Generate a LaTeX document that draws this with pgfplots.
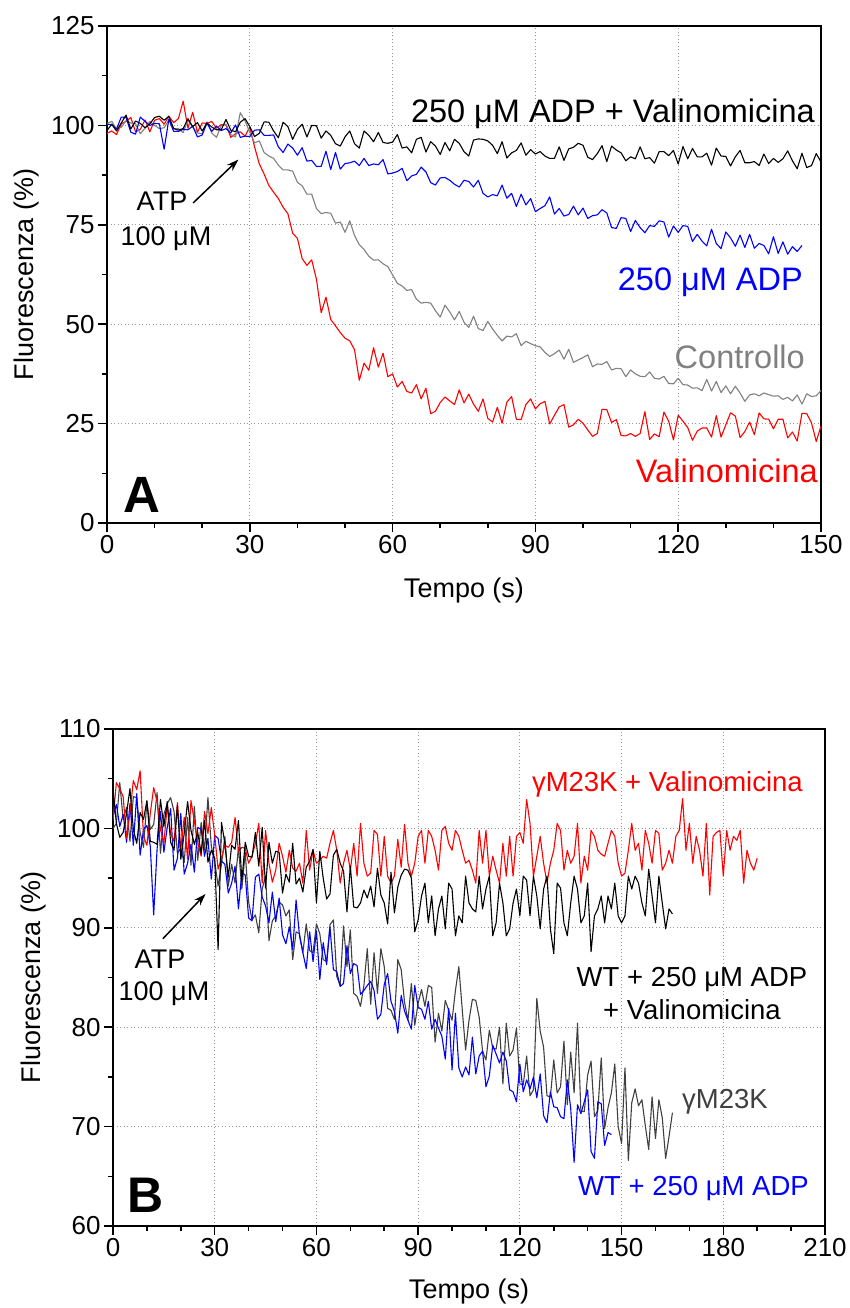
\documentclass[border=0pt]{standalone}
\usepackage{fontspec}
\setmainfont{Liberation Sans}
\usepackage{pgfplots}
\usepackage{pgfplotstable}
\pgfplotsset{compat=1.18}
\usetikzlibrary{arrows.meta}
\definecolor{cblue}{RGB}{0,0,255}
\definecolor{cred}{RGB}{255,0,0}
\definecolor{cgray}{RGB}{128,128,128}
\definecolor{cdgray}{RGB}{64,64,64}
\definecolor{gridc}{RGB}{150,150,150}

\pgfplotstableread{
t bk bl gr rd
0 98.7 100.3 100.5 98.0
1 100.3 100.2 101.0 98.6
2 98.6 99.1 99.1 97.7
3 100.6 102.1 99.5 100.4
4 102.6 102.0 101.2 101.0
5 99.1 98.3 100.6 102.0
6 101.1 97.8 100.4 98.4
7 100.5 102.1 97.9 99.0
8 99.4 101.0 99.3 101.4
9 100.4 100.0 101.0 98.4
10 102.0 100.5 100.0 101.3
11 102.3 100.4 99.2 101.7
12 101.3 94.0 99.4 100.3
13 102.3 101.6 101.4 102.3
14 99.2 98.5 99.2 100.7
15 98.8 98.5 99.2 101.7
16 99.2 99.0 98.2 106.1
17 101.7 98.9 101.3 99.3
18 99.7 99.8 99.6 103.3
19 100.7 97.1 98.1 98.3
20 98.6 97.6 97.9 100.6
21 100.6 100.6 100.9 100.5
22 99.6 98.5 98.1 101.0
23 98.9 99.8 97.0 99.3
24 98.9 98.7 100.0 100.2
25 101.5 99.2 100.3 100.1
26 98.8 98.1 97.7 97.0
27 98.4 100.1 97.1 97.9
28 100.8 97.0 103.2 98.4
29 101.7 97.3 101.1 97.3
30 99.7 97.2 98.3 99.6
31 97.2 98.8 95.6 94.6
32 98.0 98.9 96.1 90.3
33 100.9 97.5 93.2 87.8
34 100.8 97.5 92.3 84.9
35 98.6 97.6 91.7 83.2
36 96.9 94.6 90.0 81.6
37 100.8 93.2 88.8 79.4
38 99.7 95.3 88.8 77.8
39 96.5 94.3 88.5 72.9
40 99.0 92.5 85.7 71.6
41 100.3 94.4 84.8 66.5
42 97.1 91.0 82.7 64.8
43 100.0 91.2 82.7 66.2
44 99.9 89.7 79.1 61.3
45 96.8 89.7 77.8 52.9
46 98.6 93.5 78.1 56.8
47 97.5 88.9 77.9 51.2
48 95.4 93.2 75.4 49.6
49 94.8 89.0 75.7 47.9
50 97.1 90.4 73.1 46.5
51 98.6 90.6 76.0 45.8
52 95.4 91.0 72.3 43.6
53 94.3 89.9 70.0 35.9
54 98.6 91.7 68.8 40.2
55 97.5 89.9 67.1 38.4
56 95.9 90.3 66.1 44.1
57 98.2 90.1 66.2 39.2
58 95.7 91.4 65.2 42.7
59 95.5 87.8 64.5 36.8
60 95.8 88.0 62.4 37.5
61 97.7 88.4 60.3 34.2
62 94.3 89.2 59.6 35.6
63 94.6 86.1 58.5 33.1
64 93.1 87.3 58.7 32.7
65 96.5 87.7 56.3 34.8
66 97.0 89.5 55.3 31.2
67 93.3 88.3 55.5 33.9
68 95.9 85.6 55.3 27.5
69 94.8 85.0 53.4 28.1
70 92.7 86.8 51.8 30.3
71 95.7 86.9 54.8 31.7
72 93.6 86.2 53.1 30.7
73 96.5 85.2 51.1 29.8
74 95.5 84.5 53.2 33.5
75 93.4 86.2 50.5 30.2
76 92.3 85.9 49.2 32.4
77 96.3 84.5 52.0 29.9
78 96.6 86.2 48.9 28.1
79 96.5 82.9 48.4 31.2
80 96.1 82.0 50.7 26.3
81 95.0 82.6 48.8 25.4
82 92.9 82.3 47.2 29.1
83 95.9 85.0 45.8 25.1
84 91.8 81.7 47.0 30.4
85 93.1 82.9 46.8 31.8
86 93.7 79.6 47.6 26.1
87 95.6 82.7 44.6 26.0
88 92.5 80.0 45.7 29.8
89 93.9 81.6 45.1 31.2
90 92.8 78.3 44.6 28.7
91 93.4 79.1 44.3 30.0
92 92.3 79.8 42.9 30.6
93 91.7 82.0 41.9 24.9
94 91.7 77.7 42.6 27.1
95 94.6 79.1 43.5 29.2
96 91.2 77.2 41.2 29.8
97 94.1 77.6 43.7 24.1
98 94.5 79.7 40.4 24.7
99 95.5 77.5 41.0 26.1
100 95.0 79.2 41.6 25.1
101 92.0 76.6 42.3 23.4
102 91.4 77.3 39.3 21.8
103 92.9 77.5 40.0 22.5
104 94.9 78.8 39.9 28.6
105 90.9 78.0 40.6 28.5
106 94.8 74.3 38.5 25.3
107 93.8 74.1 38.9 26.0
108 93.1 76.8 38.8 22.0
109 91.1 76.6 36.8 21.9
110 92.1 73.3 38.5 22.5
111 91.6 76.1 37.5 21.8
112 94.6 74.3 36.9 22.5
113 91.6 73.0 36.8 28.0
114 91.9 74.8 38.0 21.0
115 90.5 74.6 36.4 22.4
116 93.4 76.0 36.2 21.7
117 93.4 75.7 36.9 27.9
118 92.4 71.9 35.1 25.6
119 93.7 74.7 35.0 20.9
120 90.3 73.1 36.4 27.1
121 94.7 74.8 34.8 25.6
122 91.6 74.6 34.7 24.0
123 94.2 70.8 33.9 20.8
124 92.1 72.6 34.0 23.1
125 92.1 70.9 33.3 23.9
126 93.0 69.7 36.1 23.9
127 90.0 73.9 33.2 21.6
128 94.3 70.3 35.6 27.0
129 92.3 69.0 32.8 21.6
130 92.2 73.2 34.5 24.7
131 89.8 71.7 32.5 27.7
132 92.1 69.6 34.4 26.9
133 93.7 72.4 32.7 21.5
134 90.6 69.3 30.6 23.0
135 90.6 72.6 32.2 25.4
136 90.9 69.1 32.5 22.2
137 89.9 70.3 32.0 27.7
138 92.8 69.8 32.7 26.2
139 90.4 67.7 32.3 26.1
140 91.7 72.0 31.9 23.7
141 90.7 67.8 32.0 26.1
142 91.6 70.7 31.1 26.1
143 93.6 67.6 31.6 21.4
144 91.1 69.5 30.7 22.9
145 89.1 68.3 32.2 20.6
146 93.0 69.8 29.9 27.6
147 89.4 nan 32.5 27.5
148 89.9 nan 31.8 25.2
149 92.9 nan 32.0 20.5
150 90.8 nan 33.3 24.4
}\dataA

\pgfplotstableread{
t rd bk bl gy
0 100.8 104.0 101.2 100.0
1 104.6 100.5 102.4 100.5
2 104.0 99.1 100.2 104.6
3 103.2 99.6 101.4 100.9
4 99.0 101.5 98.6 102.1
5 101.6 104.0 102.5 98.7
6 104.8 99.9 98.3 103.2
7 103.9 98.5 103.5 103.1
8 105.8 101.6 97.3 99.6
9 99.2 100.9 99.9 98.1
10 98.3 102.8 100.3 102.7
11 101.5 98.7 98.2 99.9
12 104.1 98.6 91.3 100.4
13 102.7 98.4 97.9 103.6
14 99.9 102.9 101.7 97.5
15 98.5 100.2 97.6 101.4
16 102.3 102.7 100.1 102.5
17 99.5 98.6 102.0 103.1
18 98.7 97.8 95.8 101.7
19 102.6 102.3 97.0 97.5
20 97.9 96.9 101.5 98.0
21 101.1 99.5 95.4 96.6
22 96.9 102.7 96.5 101.1
23 102.8 99.8 98.4 96.3
24 100.7 98.4 95.6 102.2
25 98.6 99.6 100.1 96.8
26 97.2 97.5 99.9 100.6
27 101.7 100.8 97.2 97.8
28 99.5 96.6 99.0 103.1
29 102.1 97.8 94.9 98.2
30 99.3 97.0 99.3 96.7
31 95.9 87.8 99.0 94.2
32 97.0 100.6 96.7 96.4
33 98.3 98.5 96.4 99.2
34 98.1 95.1 93.5 94.2
35 98.6 98.3 94.5 96.4
36 101.1 97.9 96.2 94.5
37 97.7 100.8 91.9 98.1
38 98.1 94.7 95.6 93.9
39 98.0 98.6 95.3 97.6
40 96.5 97.2 91.0 92.6
41 97.2 97.1 90.7 90.8
42 98.5 99.6 95.1 91.3
43 100.5 96.2 95.4 89.5
44 94.5 100.1 93.1 93.9
45 99.8 94.0 92.2 95.2
46 96.5 98.6 90.5 88.7
47 94.6 96.5 93.6 90.7
48 95.8 97.7 90.6 91.2
49 98.5 97.6 93.0 92.6
50 97.2 93.5 89.3 92.3
51 95.6 95.4 88.4 91.2
52 97.8 94.6 90.1 91.8
53 96.0 98.5 87.8 86.8
54 95.7 94.4 92.8 89.6
55 96.5 95.0 89.2 89.4
56 94.5 93.6 87.5 87.5
57 99.8 96.1 85.9 90.4
58 95.8 96.7 89.6 87.7
59 97.8 97.9 86.6 87.5
60 96.5 92.5 89.7 90.4
61 96.8 97.7 84.8 89.4
62 97.2 95.0 88.5 86.8
63 97.0 92.9 86.3 86.6
64 98.5 93.4 90.1 90.3
65 99.8 97.3 85.8 90.8
66 97.8 97.9 85.6 85.1
67 94.5 96.5 84.1 84.2
68 96.5 95.7 84.4 90.2
69 97.8 91.6 88.2 86.1
70 95.8 96.2 85.4 89.8
71 98.5 92.1 86.4 83.4
72 95.2 92.0 86.2 83.1
73 100.5 92.5 83.3 82.1
74 96.5 93.8 83.7 84.2
75 95.2 93.0 84.2 87.9
76 95.5 94.2 84.6 82.3
77 99.8 92.1 83.7 87.5
78 99.4 96.0 80.8 83.4
79 95.2 93.3 81.3 87.9
80 99.2 92.5 84.3 86.1
81 95.2 90.4 85.4 81.9
82 94.5 95.6 82.6 81.7
83 95.2 91.5 81.6 80.8
84 98.9 94.1 79.4 86.8
85 96.1 95.3 83.2 85.8
86 100.4 95.9 81.6 82.5
87 96.5 95.8 80.7 80.7
88 95.2 95.0 79.8 84.4
89 96.5 89.6 84.2 80.2
90 99.2 90.8 82.0 82.4
91 99.8 93.2 81.8 83.8
92 96.5 94.5 80.8 82.1
93 99.8 90.5 82.6 84.2
94 99.2 93.2 79.8 84.0
95 97.8 89.2 80.8 78.5
96 95.8 91.9 79.9 81.4
97 99.8 93.2 79.1 79.6
98 100.2 89.9 76.8 82.7
99 98.5 94.5 81.9 81.7
100 97.8 93.9 75.7 80.7
101 99.8 89.2 81.4 83.7
102 99.2 91.2 75.9 86.1
103 97.8 90.5 75.0 81.8
104 96.5 95.2 76.0 77.7
105 96.8 92.5 75.2 80.7
106 95.8 91.9 79.0 82.8
107 94.5 91.6 75.3 82.7
108 99.8 95.2 77.1 81.0
109 96.5 91.9 77.6 77.6
110 99.8 93.9 74.0 76.7
111 95.2 95.2 75.1 79.7
112 97.2 89.2 78.2 77.9
113 95.8 90.5 77.3 77.8
114 94.5 94.5 76.4 80.0
115 98.5 92.5 77.5 74.3
116 95.2 89.2 76.6 80.4
117 99.2 89.9 73.7 77.1
118 95.2 92.5 73.5 77.7
119 99.2 93.9 72.5 79.9
120 99.6 91.2 76.3 74.3
121 98.5 95.2 73.5 74.2
122 102.9 94.8 74.7 77.1
123 100.5 91.2 73.8 73.1
124 95.2 95.2 75.0 73.7
125 97.2 93.2 72.9 82.9
126 99.2 89.9 75.3 79.6
127 96.5 93.9 71.1 78.0
128 94.5 95.2 70.4 73.1
129 96.5 89.9 73.5 73.0
130 97.8 87.4 72.0 76.7
131 100.5 94.5 71.9 73.4
132 99.8 94.0 71.0 74.0
133 95.8 90.5 70.8 78.6
134 97.8 89.2 74.7 72.2
135 96.5 92.5 71.8 77.5
136 97.2 95.2 66.4 73.4
137 100.5 93.9 72.2 80.4
138 94.5 90.5 71.3 71.6
139 97.2 91.2 72.5 71.5
140 95.8 94.5 73.7 75.2
141 99.8 87.6 67.5 76.6
142 99.2 91.2 66.8 71.0
143 97.8 91.9 72.5 71.6
144 97.4 93.2 72.3 76.9
145 97.2 90.5 68.1 69.8
146 98.5 93.2 69.4 71.9
147 99.8 91.9 69.2 73.4
148 99.2 94.5 nan 76.3
149 96.5 91.2 nan 70.0
150 95.2 90.5 nan 68.3
151 95.5 91.2 nan 75.9
152 97.8 95.2 nan 66.6
153 100.5 93.9 nan 72.4
154 97.8 95.2 nan 73.8
155 98.5 94.5 nan 72.1
156 95.8 92.5 nan 72.7
157 99.8 91.2 nan 70.1
158 98.5 95.9 nan 67.7
159 96.5 93.2 nan 73.0
160 99.8 90.5 nan 68.8
161 99.5 95.2 nan 72.7
162 95.8 92.5 nan 70.9
163 96.5 89.9 nan 66.8
164 97.8 91.9 nan 69.0
165 96.5 91.4 nan 71.4
166 99.2 nan nan nan
167 99.8 nan nan nan
168 103.0 nan nan nan
169 97.8 nan nan nan
170 100.5 nan nan nan
171 96.5 nan nan nan
172 99.2 nan nan nan
173 97.8 nan nan nan
174 95.2 nan nan nan
175 100.5 nan nan nan
176 93.3 nan nan nan
177 99.2 nan nan nan
178 99.6 nan nan nan
179 99.8 nan nan nan
180 95.2 nan nan nan
181 99.8 nan nan nan
182 97.8 nan nan nan
183 99.2 nan nan nan
184 98.8 nan nan nan
185 99.8 nan nan nan
186 94.5 nan nan nan
187 97.8 nan nan nan
188 96.5 nan nan nan
189 95.8 nan nan nan
190 97.0 nan nan nan
}\dataB

\pgfplotsset{
  myaxis/.style={
    scale only axis,
    axis line style={line width=1.5pt},
    tick align=outside,
    tick pos=left,
    major tick length=9pt,
    minor tick length=5pt,
    every tick/.append style={line width=1.5pt, black},
    grid=major,
    major grid style={dash pattern=on 1pt off 2.5pt, gridc, line width=0.9pt},
    tick label style={font=\fontsize{26}{26}\selectfont},
    /pgf/number format/assume math mode=true,
    /pgf/number format/1000 sep={},
    label style={font=\fontsize{27}{27}\selectfont},
    trace/.style={line width=1.1pt, line join=round},
  }
}

\begin{document}
\begin{tikzpicture}
\path[use as bounding box] (0pt,0pt) rectangle (849pt,-1308pt);

% ---------- Panel A ----------
\begin{axis}[myaxis,
  at={(107pt,-523pt)}, anchor=south west,
  width=714pt, height=497pt,
  xmin=0, xmax=150, ymin=0, ymax=125,
  xtick={0,30,...,150}, ytick={0,25,...,125},
  minor xtick={10,20,40,50,70,80,100,110,130,140},
  minor ytick={12.5,37.5,62.5,87.5,112.5},
  xlabel={Tempo (s)}, ylabel={Fluorescenza (\%)},
  xlabel style={at={(axis description cs:0.5,-0.149)}, anchor=base},
  ylabel style={at={(axis description cs:-0.1036,0.5)}, anchor=base},
]
\addplot[cred, trace] table[x=t, y=rd] {\dataA};
\addplot[cgray, trace] table[x=t, y=gr] {\dataA};
\addplot[cblue, trace] table[x=t, y=bl] {\dataA};
\addplot[black, trace] table[x=t, y=bk] {\dataA};
\draw[line width=1.5pt, -{Stealth[length=12pt,width=8pt]}] (axis cs:18.1,80.5) -- (axis cs:27.6,91.4);
\end{axis}

\begin{scope}[every node/.style={inner sep=0pt}]
\node[anchor=base east, font=\fontsize{32.5}{32.5}\selectfont] at (815pt,-123pt) {250 μM ADP + Valinomicina};
\node[anchor=base east, text=cblue, font=\fontsize{32.5}{32.5}\selectfont] at (803pt,-290pt) {250 μM ADP};
\node[anchor=base east, text=cgray, font=\fontsize{32.5}{32.5}\selectfont] at (805pt,-368pt) {Controllo};
\node[anchor=base east, text=cred, font=\fontsize{32.5}{32.5}\selectfont] at (818pt,-482pt) {Valinomicina};
\node[anchor=base west, font=\fontsize{51}{51}\selectfont\bfseries] at (123pt,-512pt) {A};
\node[anchor=base, font=\fontsize{27}{27}\selectfont] at (162pt,-210pt) {ATP};
\node[anchor=base, font=\fontsize{27}{27}\selectfont] at (166pt,-245pt) {100 μM};
\end{scope}

% ---------- Panel B ----------
\begin{axis}[myaxis,
  at={(113pt,-1226pt)}, anchor=south west,
  width=712pt, height=497pt,
  xmin=0, xmax=210, ymin=60, ymax=110,
  xtick={0,30,...,210}, ytick={60,70,...,110},
  minor xtick={10,20,40,50,70,80,100,110,130,140,160,170,190,200},
  minor ytick={65,75,85,95,105},
  xlabel={Tempo (s)}, ylabel={Fluorescenza (\%)},
  xlabel style={at={(axis description cs:0.5,-0.145)}, anchor=base},
  ylabel style={at={(axis description cs:-0.1025,0.5)}, anchor=base},
]
\addplot[cdgray, trace] table[x=t, y=gy] {\dataB};
\addplot[cblue, trace] table[x=t, y=bl] {\dataB};
\addplot[cred, trace] table[x=t, y=rd] {\dataB};
\addplot[black, trace] table[x=t, y=bk] {\dataB};
\draw[line width=1.5pt, -{Stealth[length=12pt,width=8pt]}] (axis cs:14.7,88.9) -- (axis cs:27.3,93.4);
\end{axis}

\begin{scope}[every node/.style={inner sep=0pt}]
\node[anchor=base east, text=cred, font=\fontsize{27.5}{27.5}\selectfont] at (803pt,-791pt) {γM23K + Valinomicina};
\node[anchor=base, font=\fontsize{27.5}{27.5}\selectfont] at (692pt,-986pt) {WT + 250 μM ADP};
\node[anchor=base, font=\fontsize{27.5}{27.5}\selectfont] at (692pt,-1019pt) {+ Valinomicina};
\node[anchor=base west, text=cdgray, font=\fontsize{27.5}{27.5}\selectfont] at (682pt,-1108pt) {γM23K};
\node[anchor=base west, text=cblue, font=\fontsize{27.5}{27.5}\selectfont] at (578pt,-1195pt) {WT + 250 μM ADP};
\node[anchor=base west, font=\fontsize{50}{50}\selectfont\bfseries] at (127pt,-1212pt) {B};
\node[anchor=base, font=\fontsize{27}{27}\selectfont] at (160pt,-968pt) {ATP};
\node[anchor=base, font=\fontsize{27}{27}\selectfont] at (164pt,-1000pt) {100 μM};
\end{scope}
\end{tikzpicture}
\end{document}
